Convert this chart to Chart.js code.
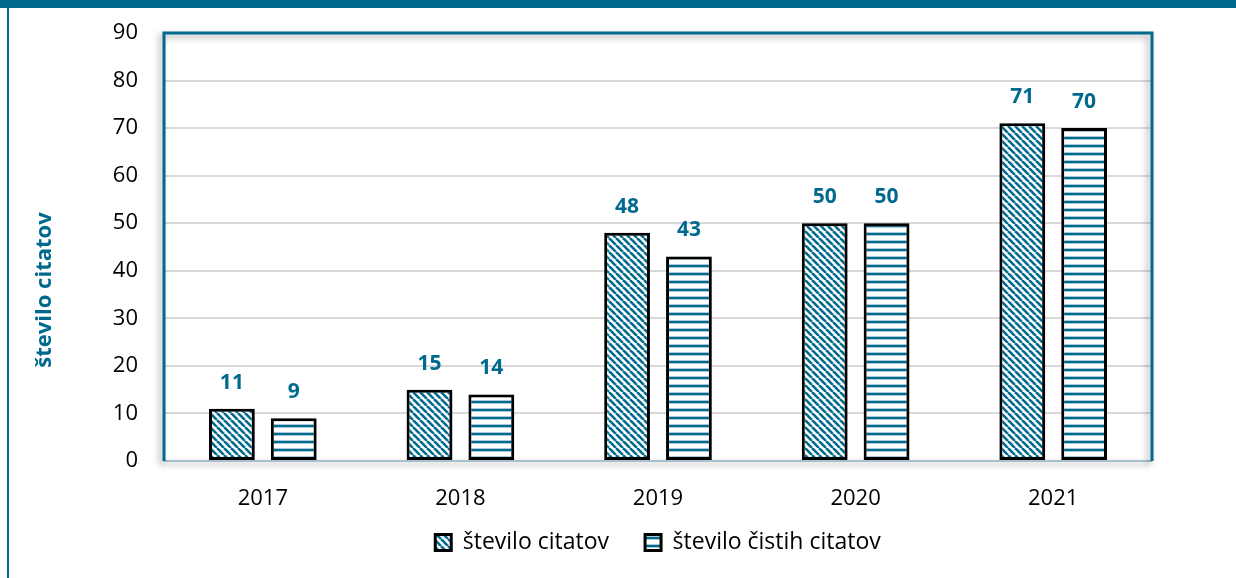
<!DOCTYPE html>
<html>
<head>
<meta charset="utf-8">
<script src="https://cdn.jsdelivr.net/npm/chart.js@4"></script>
<style>
  html, body { margin: 0; padding: 0; background: #fff; }
  #wrap { position: relative; width: 1236px; height: 578px; overflow: hidden; }
  #topbar { position: absolute; left: 0; top: 0; width: 1236px; height: 8px; background: #006a8e; }
  #leftline { position: absolute; left: 7px; top: 8px; width: 2px; height: 570px; background: #006a8e; }
  canvas { position: absolute; left: 0; top: 0; }
</style>
</head>
<body>
<div id="wrap">
  <canvas id="myChart" width="1236" height="578"></canvas>
  <div id="topbar"></div>
  <div id="leftline"></div>
</div>
<script>
const years = ['2017', '2018', '2019', '2020', '2021'];
const citati = [11, 15, 48, 50, 71];
const cistiCitati = [9, 14, 43, 50, 70];
const seriesNames = ['število citatov', 'število čistih citatov'];
const axisTitle = 'število citatov';

const teal = '#006a8e';
const font = '"Open Sans", "DejaVu Sans", sans-serif';

// hatch fills
function diagPattern() {
    const c = document.createElement('canvas');
    c.width = c.height = 7;
    const x = c.getContext('2d');
    x.fillStyle = '#fff';
    x.fillRect(0, 0, 7, 7);
    x.strokeStyle = teal;
    x.lineWidth = 2.6;
    for (const o of [-7, 0, 7]) {
        x.beginPath();
        x.moveTo(o, 0);
        x.lineTo(o + 7, 7);
        x.stroke();
    }
    return x.createPattern(c, 'repeat');
}

function horizPattern() {
    const c = document.createElement('canvas');
    c.width = 4;
    c.height = 8;
    const x = c.getContext('2d');
    x.fillStyle = '#fff';
    x.fillRect(0, 0, 4, 8);
    x.fillStyle = '#a9cbd8';
    x.fillRect(0, 0, 4, 4);
    x.fillStyle = teal;
    x.fillRect(0, 1, 4, 2);
    return x.createPattern(c, 'repeat');
}

// frame round the plot area + bar shadows
const framePlugin = {
    id: 'frame',
    beforeDatasetsDraw(chart) {
        const { ctx, chartArea: a } = chart;
        ctx.save();
        ctx.shadowColor = 'rgba(0,0,0,0.35)';
        ctx.shadowBlur = 6;
        ctx.shadowOffsetX = -3;
        ctx.shadowOffsetY = 3;
        ctx.strokeStyle = '#a9bfcc';
        ctx.lineWidth = 2;
        ctx.beginPath();
        ctx.moveTo(a.left, a.bottom);
        ctx.lineTo(a.right, a.bottom);
        ctx.stroke();
        ctx.strokeStyle = teal;
        ctx.lineWidth = 3;
        ctx.beginPath();
        ctx.moveTo(a.left, a.bottom);
        ctx.lineTo(a.left, a.top);
        ctx.lineTo(a.right, a.top);
        ctx.lineTo(a.right, a.bottom);
        ctx.stroke();
        ctx.restore();

        ctx.save();
        ctx.shadowColor = 'rgba(0,0,0,0.25)';
        ctx.shadowBlur = 4;
        ctx.shadowOffsetX = 3;
        ctx.shadowOffsetY = 1;
    },
    afterDatasetsDraw(chart) {
        const { ctx } = chart;
        ctx.restore();

        // value labels
        ctx.save();
        ctx.fillStyle = teal;
        ctx.font = 'bold 21px ' + font;
        ctx.textAlign = 'center';
        ctx.textBaseline = 'middle';
        chart.data.datasets.forEach((ds, i) => {
            chart.getDatasetMeta(i).data.forEach((bar, j) => {
                ctx.fillText(ds.data[j], bar.x, bar.y - 26);
            });
        });

        // y title
        ctx.translate(45, 290);
        ctx.rotate(-Math.PI / 2);
        ctx.font = 'bold 22px ' + font;
        ctx.fillText(axisTitle, 0, 0);
        ctx.restore();
    }
};

const data = {
    labels: years,
    datasets: [{
        label: seriesNames[0],
        data: citati,
        backgroundColor: diagPattern(),
        borderColor: '#000',
        borderWidth: 3,
        borderSkipped: false,
    }, {
        label: seriesNames[1],
        data: cistiCitati,
        backgroundColor: horizPattern(),
        borderColor: '#000',
        borderWidth: 3,
        borderSkipped: false,
    }]
};

const config = {
    type: 'bar',
    data: data,
    options: {
        responsive: false,
        animation: false,
        categoryPercentage: 0.626,
        barPercentage: 0.74,
        layout: { padding: { left: 0, right: 84, top: 33, bottom: 14 } },
        plugins: {
            legend: {
                position: 'bottom',
                fullSize: false,
                labels: {
                    color: '#000',
                    font: { family: font, size: 23 },
                    boxWidth: 16,
                    boxHeight: 16,
                    padding: 36,
                }
            },
            tooltip: { enabled: false }
        },
        scales: {
            x: {
                grid: { display: false },
                border: { display: false },
                ticks: { color: '#000', font: { family: font, size: 22 }, padding: 17 },
                afterFit: s => {
                    s.height = 34;
                    // the labels reach below this short box, so don't clip them to it
                    s._computeLabelArea = () => undefined;
                }
            },
            y: {
                min: 0,
                max: 90,
                grid: { color: '#d9d9d9', lineWidth: 2, drawTicks: false },
                border: { display: false },
                ticks: { stepSize: 10, color: '#000', font: { family: font, size: 22 }, padding: 26 },
                afterFit: s => {
                    s.width = 164;
                    s.paddingTop = 0;
                    s.paddingBottom = 0;
                }
            }
        }
    },
    plugins: [framePlugin]
};

const myChart = new Chart(document.getElementById('myChart'), config);
</script>
</body>
</html>
